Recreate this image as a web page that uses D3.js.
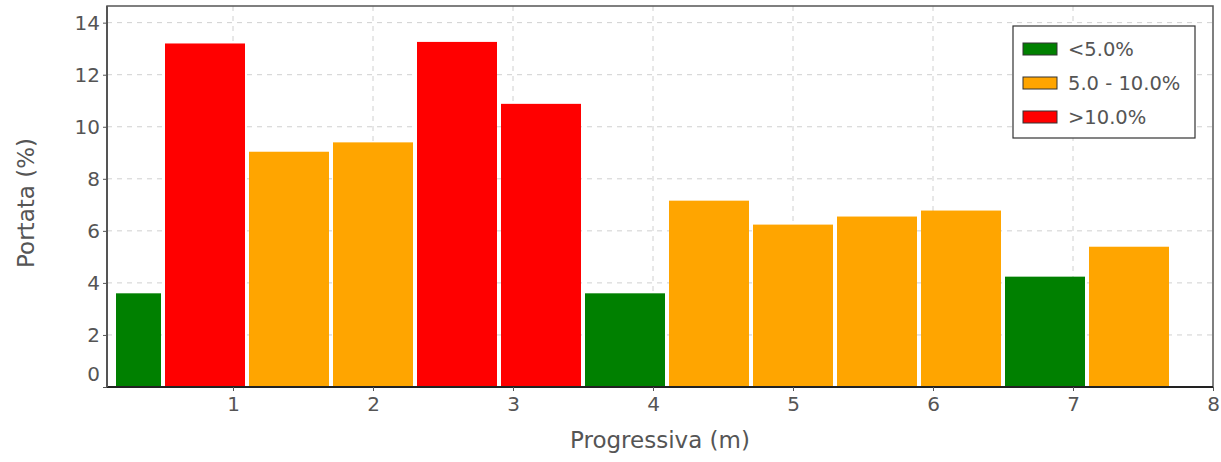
<!DOCTYPE html>
<html><head><meta charset="utf-8">
<script src="https://cdn.jsdelivr.net/npm/d3@7/dist/d3.min.js"></script>
<style>body{margin:0;background:#fff}svg{display:block}text{font-family:"DejaVu Sans",Verdana,sans-serif;fill:#555}</style>
</head><body><svg id="c" width="1221" height="462"></svg>
<script>
const binFrom = [0.15, 0.5, 1.1, 1.7, 2.3, 2.9, 3.5, 4.1, 4.7, 5.3, 5.9, 6.5, 7.1];
const binTo   = [0.5, 1.1, 1.7, 2.3, 2.9, 3.5, 4.1, 4.7, 5.3, 5.9, 6.5, 7.1, 7.7];
const values  = [3.6, 13.2, 9.04, 9.4, 13.26, 10.88, 3.6, 7.16, 6.24, 6.55, 6.78, 4.24, 5.39];
const classNames = ["<5.0%", "5.0 - 10.0%", ">10.0%"];
const classColors = ["#008000", "#FFA500", "#FF0000"];
const xTicks = [1,2,3,4,5,6,7,8];
const yTicks = [0,2,4,6,8,10,12,14];

const svg = d3.select("#c");
const L=107, R=1213, T=6, B=387;
const x = d3.scaleLinear().domain([0.1, 8]).range([L, R]);
const y = d3.scaleLinear().domain([0, 14.64]).range([B, T]);
const cls = v => v < 5 ? 0 : (v <= 10 ? 1 : 2);

// grid
const g = svg.append("g");
g.selectAll(".gy").data(yTicks.filter(d=>d>0)).join("line")
  .attr("x1",L).attr("x2",R).attr("y1",d=>y(d)).attr("y2",d=>y(d))
  .attr("stroke","#d0d0d0").attr("stroke-dasharray","5,5");
g.selectAll(".gx").data(xTicks.filter(d=>d<8)).join("line")
  .attr("y1",T).attr("y2",B).attr("x1",d=>x(d)).attr("x2",d=>x(d))
  .attr("stroke","#d0d0d0").attr("stroke-dasharray","5,5");

// bars
svg.append("g").selectAll("rect").data(values).join("rect")
  .attr("x",(d,i)=>x(binFrom[i])+2)
  .attr("width",(d,i)=>x(binTo[i])-x(binFrom[i])-4)
  .attr("y",d=>y(d)).attr("height",d=>B-y(d))
  .attr("fill",d=>classColors[cls(d)]);

// frame
svg.append("rect").attr("x",L).attr("y",T).attr("width",R-L).attr("height",B-T)
  .attr("fill","none").attr("stroke","#555").attr("stroke-width",1.5);
svg.append("line").attr("x1",L).attr("x2",R).attr("y1",B).attr("y2",B).attr("stroke","#222").attr("stroke-width",2);
svg.append("line").attr("x1",L).attr("x2",L).attr("y1",T).attr("y2",B).attr("stroke","#555").attr("stroke-width",2);

// y axis
const ya = svg.append("g").attr("transform",`translate(${L},0)`)
  .call(d3.axisLeft(y).tickValues(yTicks).tickSize(4).tickPadding(3));
ya.select(".domain").remove();
ya.selectAll("line").attr("stroke","#555");
ya.selectAll("text").style("font-size","20px").attr("fill","#555")
  .attr("dy",d=>d===0?"-0.35em":"0.32em");

// x axis
const xa = svg.append("g").attr("transform",`translate(0,${B})`)
  .call(d3.axisBottom(x).tickValues(xTicks).tickSize(4).tickPadding(6));
xa.select(".domain").remove();
xa.selectAll("line").attr("stroke","#555");
xa.selectAll("text").style("font-size","20px").attr("fill","#555");

// labels
svg.append("text").attr("x",660).attr("y",448).attr("text-anchor","middle")
  .style("font-size","23px").text("Progressiva (m)");
svg.append("text").attr("transform","translate(34,203) rotate(-90)").attr("text-anchor","middle")
  .style("font-size","23px").text("Portata (%)");

// legend
const lg = svg.append("g");
lg.append("rect").attr("x",1013).attr("y",26).attr("width",182).attr("height",112)
  .attr("fill","#fff").attr("stroke","#333").attr("stroke-width",1.2);
const items = lg.selectAll("g.it").data(classNames).join("g")
  .attr("transform",(d,i)=>`translate(1023,${49+i*34})`);
items.append("rect").attr("x",0).attr("y",-6).attr("width",34).attr("height",12)
  .attr("fill",(d,i)=>classColors[i]).attr("stroke","#333").attr("stroke-width",1);
items.append("text").attr("x",45).attr("y",0).attr("dy","0.35em")
  .style("font-size","19.5px").text(d=>d);
</script></body></html>
